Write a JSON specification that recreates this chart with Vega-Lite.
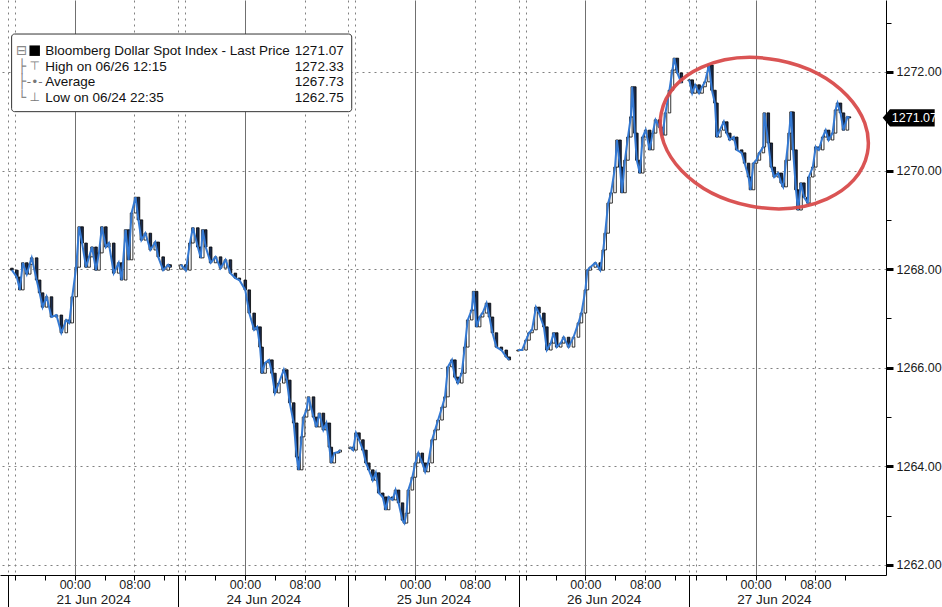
{
  "$schema": "https://vega.github.io/schema/vega-lite/v6.json",
  "width": 886,
  "height": 575,
  "autosize": {"type": "none"},
  "padding": {"left": 0, "top": 0, "right": 56, "bottom": 32},
  "background": "white",
  "config": {
    "view": {"stroke": null},
    "axis": {"labelFont": "Liberation Sans", "titleFont": "Liberation Sans"},
    "text": {"font": "Liberation Sans"}
  },
  "datasets": {
    "px": [
      {"d":0,"t":0.53,"o":1268.02,"c":1267.98},{"d":0,"t":1.19,"o":1267.98,"c":1267.84},{"d":0,"t":1.59,"o":1267.84,"c":1267.58},{"d":0,"t":1.99,"o":1267.58,"c":1268.13},{"d":0,"t":2.52,"o":1268.13,"c":1267.90},{"d":0,"t":2.91,"o":1267.90,"c":1268.10},{"d":0,"t":3.18,"o":1268.10,"c":1268.23},{"d":0,"t":3.84,"o":1268.23,"c":1267.78},{"d":0,"t":4.24,"o":1267.78,"c":1267.52},{"d":0,"t":4.64,"o":1267.52,"c":1267.23},{"d":0,"t":5.17,"o":1267.23,"c":1267.44},{"d":0,"t":5.83,"o":1267.44,"c":1267.03},{"d":0,"t":6.49,"o":1267.03,"c":1267.07},{"d":0,"t":7.15,"o":1267.07,"c":1266.71},{"d":0,"t":7.81,"o":1266.71,"c":1266.97},{"d":0,"t":8.21,"o":1266.97,"c":1266.91},{"d":0,"t":8.61,"o":1266.91,"c":1267.44},{"d":0,"t":9.14,"o":1267.44,"c":1268.04},{"d":0,"t":9.54,"o":1268.04,"c":1268.86},{"d":0,"t":9.93,"o":1268.86,"c":1268.53},{"d":0,"t":10.46,"o":1268.53,"c":1268.04},{"d":0,"t":10.86,"o":1268.04,"c":1268.25},{"d":0,"t":11.26,"o":1268.25,"c":1268.45},{"d":0,"t":11.79,"o":1268.45,"c":1267.98},{"d":0,"t":12.19,"o":1267.98,"c":1268.33},{"d":0,"t":12.58,"o":1268.33,"c":1268.86},{"d":0,"t":13.11,"o":1268.86,"c":1268.45},{"d":0,"t":13.51,"o":1268.45,"c":1268.53},{"d":0,"t":14.17,"o":1268.53,"c":1267.92},{"d":0,"t":14.83,"o":1267.92,"c":1268.13},{"d":0,"t":15.23,"o":1268.13,"c":1267.78},{"d":0,"t":15.76,"o":1267.78,"c":1268.80},{"d":0,"t":16.16,"o":1268.80,"c":1268.19},{"d":0,"t":16.56,"o":1268.19,"c":1269.14},{"d":0,"t":17.09,"o":1269.14,"c":1269.46},{"d":0,"t":17.48,"o":1269.46,"c":1269.00},{"d":0,"t":17.88,"o":1269.00,"c":1268.59},{"d":0,"t":18.41,"o":1268.59,"c":1268.73},{"d":0,"t":19.07,"o":1268.73,"c":1268.39},{"d":0,"t":19.74,"o":1268.39,"c":1268.55},{"d":0,"t":20.13,"o":1268.55,"c":1268.25},{"d":0,"t":20.79,"o":1268.25,"c":1267.98},{"d":0,"t":21.46,"o":1267.98,"c":1268.09},{"d":0,"t":21.72,"o":1268.09,"c":1268.04},
      {"d":1,"t":23.18,"o":1268.00,"c":1268.09},{"d":1,"t":23.84,"o":1268.09,"c":1267.98},{"d":1,"t":24.37,"o":1267.98,"c":1268.53},{"d":1,"t":24.77,"o":1268.53,"c":1268.84},{"d":1,"t":25.43,"o":1268.84,"c":1268.45},{"d":1,"t":25.83,"o":1268.45,"c":1268.23},{"d":1,"t":26.09,"o":1268.23,"c":1268.80},{"d":1,"t":26.49,"o":1268.80,"c":1268.45},{"d":1,"t":27.15,"o":1268.45,"c":1268.13},{"d":1,"t":27.81,"o":1268.13,"c":1268.25},{"d":1,"t":28.48,"o":1268.25,"c":1268.02},{"d":1,"t":29.14,"o":1268.02,"c":1268.19},{"d":1,"t":29.80,"o":1268.19,"c":1267.92},{"d":1,"t":30.46,"o":1267.92,"c":1267.82},{"d":1,"t":30.99,"o":1267.82,"c":1267.78},{"d":1,"t":31.79,"o":1267.78,"c":1267.58},{"d":1,"t":32.32,"o":1267.58,"c":1267.11},{"d":1,"t":32.98,"o":1267.11,"c":1266.77},{"d":1,"t":33.38,"o":1266.77,"c":1266.83},{"d":1,"t":33.77,"o":1266.83,"c":1266.42},{"d":1,"t":34.04,"o":1266.42,"c":1265.89},{"d":1,"t":34.44,"o":1265.89,"c":1266.10},{"d":1,"t":34.97,"o":1266.10,"c":1266.16},{"d":1,"t":35.36,"o":1266.16,"c":1265.89},{"d":1,"t":35.76,"o":1265.89,"c":1265.49},{"d":1,"t":36.29,"o":1265.49,"c":1265.69},{"d":1,"t":36.95,"o":1265.69,"c":1265.96},{"d":1,"t":37.35,"o":1265.96,"c":1265.75},{"d":1,"t":37.75,"o":1265.75,"c":1265.29},{"d":1,"t":38.28,"o":1265.29,"c":1264.88},{"d":1,"t":38.68,"o":1264.88,"c":1264.19},{"d":1,"t":38.94,"o":1264.19,"c":1263.93},{"d":1,"t":39.34,"o":1263.93,"c":1264.60},{"d":1,"t":39.60,"o":1264.60,"c":1265.00},{"d":1,"t":40.00,"o":1265.00,"c":1265.14},{"d":1,"t":40.26,"o":1265.14,"c":1265.41},{"d":1,"t":40.93,"o":1265.41,"c":1265.00},{"d":1,"t":41.32,"o":1265.00,"c":1264.80},{"d":1,"t":41.72,"o":1264.80,"c":1265.08},{"d":1,"t":42.25,"o":1265.08,"c":1264.74},{"d":1,"t":42.65,"o":1264.74,"c":1264.88},{"d":1,"t":43.05,"o":1264.88,"c":1264.39},{"d":1,"t":43.31,"o":1264.39,"c":1264.07},{"d":1,"t":43.71,"o":1264.07,"c":1264.27},{"d":1,"t":44.24,"o":1264.27,"c":1264.29},{"d":1,"t":44.50,"o":1264.29,"c":1264.33},
      {"d":2,"t":45.83,"o":1264.36,"c":1264.39},{"d":2,"t":46.23,"o":1264.39,"c":1264.33},{"d":2,"t":46.62,"o":1264.33,"c":1264.68},{"d":2,"t":47.02,"o":1264.68,"c":1264.54},{"d":2,"t":47.55,"o":1264.54,"c":1264.33},{"d":2,"t":47.95,"o":1264.33,"c":1264.07},{"d":2,"t":48.34,"o":1264.07,"c":1263.93},{"d":2,"t":48.87,"o":1263.93,"c":1263.72},{"d":2,"t":49.27,"o":1263.72,"c":1263.87},{"d":2,"t":49.67,"o":1263.87,"c":1263.46},{"d":2,"t":50.20,"o":1263.46,"c":1263.38},{"d":2,"t":50.60,"o":1263.38,"c":1263.12},{"d":2,"t":50.99,"o":1263.12,"c":1263.38},{"d":2,"t":51.52,"o":1263.38,"c":1263.32},{"d":2,"t":51.92,"o":1263.32,"c":1263.52},{"d":2,"t":52.32,"o":1263.52,"c":1263.26},{"d":2,"t":52.85,"o":1263.26,"c":1262.91},{"d":2,"t":53.11,"o":1262.91,"c":1262.85},{"d":2,"t":53.38,"o":1262.85,"c":1263.05},{"d":2,"t":53.64,"o":1263.05,"c":1263.52},{"d":2,"t":54.17,"o":1263.52,"c":1263.78},{"d":2,"t":54.57,"o":1263.78,"c":1264.07},{"d":2,"t":54.97,"o":1264.07,"c":1264.27},{"d":2,"t":55.50,"o":1264.27,"c":1264.07},{"d":2,"t":55.89,"o":1264.07,"c":1263.89},{"d":2,"t":56.29,"o":1263.89,"c":1264.07},{"d":2,"t":56.82,"o":1264.07,"c":1264.54},{"d":2,"t":57.22,"o":1264.54,"c":1264.74},{"d":2,"t":57.62,"o":1264.74,"c":1264.94},{"d":2,"t":58.15,"o":1264.94,"c":1265.20},{"d":2,"t":58.54,"o":1265.20,"c":1265.41},{"d":2,"t":58.94,"o":1265.41,"c":1266.02},{"d":2,"t":59.47,"o":1266.02,"c":1266.16},{"d":2,"t":59.87,"o":1266.16,"c":1265.81},{"d":2,"t":60.26,"o":1265.81,"c":1265.69},{"d":2,"t":60.79,"o":1265.69,"c":1265.89},{"d":2,"t":61.19,"o":1265.89,"c":1266.42},{"d":2,"t":61.59,"o":1266.42,"c":1266.97},{"d":2,"t":62.12,"o":1266.97,"c":1267.17},{"d":2,"t":62.38,"o":1267.17,"c":1267.55},{"d":2,"t":62.78,"o":1267.55,"c":1266.83},{"d":2,"t":63.18,"o":1266.83,"c":1267.03},{"d":2,"t":63.58,"o":1267.03,"c":1267.11},{"d":2,"t":64.11,"o":1267.11,"c":1267.31},{"d":2,"t":64.50,"o":1267.31,"c":1267.03},{"d":2,"t":64.90,"o":1267.03,"c":1266.71},{"d":2,"t":65.43,"o":1266.71,"c":1266.42},{"d":2,"t":66.09,"o":1266.42,"c":1266.36},{"d":2,"t":66.75,"o":1266.36,"c":1266.22},{"d":2,"t":67.15,"o":1266.22,"c":1266.16},
      {"d":3,"t":68.34,"o":1266.34,"c":1266.36},{"d":3,"t":68.87,"o":1266.36,"c":1266.36},{"d":3,"t":69.40,"o":1266.36,"c":1266.56},{"d":3,"t":69.80,"o":1266.56,"c":1266.71},{"d":3,"t":70.20,"o":1266.71,"c":1266.77},{"d":3,"t":70.73,"o":1266.77,"c":1267.23},{"d":3,"t":71.13,"o":1267.23,"c":1267.11},{"d":3,"t":71.79,"o":1267.11,"c":1266.83},{"d":3,"t":72.19,"o":1266.83,"c":1266.36},{"d":3,"t":72.72,"o":1266.36,"c":1266.50},{"d":3,"t":73.11,"o":1266.50,"c":1266.71},{"d":3,"t":73.51,"o":1266.71,"c":1266.42},{"d":3,"t":74.04,"o":1266.42,"c":1266.50},{"d":3,"t":74.44,"o":1266.50,"c":1266.62},{"d":3,"t":75.10,"o":1266.62,"c":1266.42},{"d":3,"t":75.76,"o":1266.42,"c":1266.62},{"d":3,"t":76.42,"o":1266.62,"c":1266.91},{"d":3,"t":76.82,"o":1266.91,"c":1267.11},{"d":3,"t":77.35,"o":1267.11,"c":1267.58},{"d":3,"t":77.62,"o":1267.58,"c":1267.98},{"d":3,"t":78.01,"o":1267.98,"c":1268.04},{"d":3,"t":78.68,"o":1268.04,"c":1268.13},{"d":3,"t":79.34,"o":1268.13,"c":1267.98},{"d":3,"t":79.74,"o":1267.98,"c":1268.39},{"d":3,"t":80.00,"o":1268.39,"c":1268.73},{"d":3,"t":80.40,"o":1268.73,"c":1269.34},{"d":3,"t":80.79,"o":1269.34,"c":1269.55},{"d":3,"t":81.32,"o":1269.55,"c":1270.07},{"d":3,"t":81.59,"o":1270.07,"c":1270.62},{"d":3,"t":81.99,"o":1270.62,"c":1270.07},{"d":3,"t":82.25,"o":1270.07,"c":1269.55},{"d":3,"t":82.65,"o":1269.55,"c":1270.21},{"d":3,"t":83.05,"o":1270.21,"c":1270.68},{"d":3,"t":83.44,"o":1270.68,"c":1271.09},{"d":3,"t":83.64,"o":1271.09,"c":1271.70},{"d":3,"t":83.97,"o":1271.70,"c":1270.76},{"d":3,"t":84.24,"o":1270.76,"c":1270.21},{"d":3,"t":84.64,"o":1270.21,"c":1269.95},{"d":3,"t":85.03,"o":1269.95,"c":1270.68},{"d":3,"t":85.43,"o":1270.68,"c":1270.82},{"d":3,"t":85.96,"o":1270.82,"c":1270.42},{"d":3,"t":86.36,"o":1270.42,"c":1270.76},{"d":3,"t":86.75,"o":1270.76,"c":1271.03},{"d":3,"t":87.28,"o":1271.03,"c":1270.88},{"d":3,"t":87.68,"o":1270.88,"c":1270.72},{"d":3,"t":88.08,"o":1270.72,"c":1271.17},{"d":3,"t":88.61,"o":1271.17,"c":1271.63},{"d":3,"t":89.01,"o":1271.63,"c":1272.04},{"d":3,"t":89.27,"o":1272.04,"c":1272.28},{"d":3,"t":89.67,"o":1272.28,"c":1271.98},{"d":3,"t":90.20,"o":1271.98,"c":1271.78},
      {"d":4,"t":91.26,"o":1271.82,"c":1271.84},{"d":4,"t":91.66,"o":1271.84,"c":1271.57},{"d":4,"t":92.05,"o":1271.57,"c":1271.74},{"d":4,"t":92.58,"o":1271.74,"c":1271.57},{"d":4,"t":92.98,"o":1271.57,"c":1271.70},{"d":4,"t":93.38,"o":1271.70,"c":1271.80},{"d":4,"t":93.91,"o":1271.80,"c":1272.14},{"d":4,"t":94.30,"o":1272.14,"c":1271.63},{"d":4,"t":94.70,"o":1271.63,"c":1271.37},{"d":4,"t":94.97,"o":1271.37,"c":1270.68},{"d":4,"t":95.36,"o":1270.68,"c":1270.82},{"d":4,"t":95.89,"o":1270.82,"c":1270.99},{"d":4,"t":96.29,"o":1270.99,"c":1270.76},{"d":4,"t":96.69,"o":1270.76,"c":1270.62},{"d":4,"t":97.22,"o":1270.62,"c":1270.68},{"d":4,"t":97.62,"o":1270.68,"c":1270.42},{"d":4,"t":98.28,"o":1270.42,"c":1270.36},{"d":4,"t":98.68,"o":1270.36,"c":1270.15},{"d":4,"t":99.21,"o":1270.15,"c":1269.87},{"d":4,"t":99.47,"o":1269.87,"c":1269.61},{"d":4,"t":99.87,"o":1269.61,"c":1270.15},{"d":4,"t":100.26,"o":1270.15,"c":1270.21},{"d":4,"t":100.66,"o":1270.21,"c":1270.36},{"d":4,"t":101.19,"o":1270.36,"c":1270.48},{"d":4,"t":101.32,"o":1270.48,"c":1271.17},{"d":4,"t":101.85,"o":1271.17,"c":1270.56},{"d":4,"t":102.25,"o":1270.56,"c":1270.07},{"d":4,"t":102.65,"o":1270.07,"c":1269.87},{"d":4,"t":103.18,"o":1269.87,"c":1269.95},{"d":4,"t":103.58,"o":1269.95,"c":1269.75},{"d":4,"t":103.84,"o":1269.75,"c":1269.67},{"d":4,"t":104.24,"o":1269.67,"c":1270.21},{"d":4,"t":104.64,"o":1270.21,"c":1270.76},{"d":4,"t":104.90,"o":1270.76,"c":1271.19},{"d":4,"t":105.17,"o":1271.19,"c":1270.42},{"d":4,"t":105.56,"o":1270.42,"c":1269.61},{"d":4,"t":105.83,"o":1269.61,"c":1269.20},{"d":4,"t":106.23,"o":1269.20,"c":1269.75},{"d":4,"t":106.62,"o":1269.75,"c":1269.46},{"d":4,"t":107.15,"o":1269.46,"c":1269.34},{"d":4,"t":107.28,"o":1269.34,"c":1269.87},{"d":4,"t":107.81,"o":1269.87,"c":1270.07},{"d":4,"t":108.21,"o":1270.07,"c":1270.48},{"d":4,"t":108.61,"o":1270.48,"c":1270.42},{"d":4,"t":109.14,"o":1270.42,"c":1270.68},{"d":4,"t":109.54,"o":1270.68,"c":1270.82},{"d":4,"t":109.93,"o":1270.82,"c":1270.62},{"d":4,"t":110.46,"o":1270.62,"c":1270.76},{"d":4,"t":110.86,"o":1270.76,"c":1271.23},{"d":4,"t":111.13,"o":1271.23,"c":1271.37},{"d":4,"t":111.52,"o":1271.37,"c":1271.17},{"d":4,"t":111.92,"o":1271.17,"c":1270.82},{"d":4,"t":112.45,"o":1270.82,"c":1271.09},{"d":4,"t":112.72,"o":1271.09,"c":1271.07}
    ]
  },
  "resolve": {"axis": {"x": "independent", "y": "independent"}},
  "layer": [
    {
      "data": {"name": "px"},
      "mark": {"type": "bar", "size": 2.6, "stroke": "#000000", "strokeWidth": 0.8},
      "encoding": {
        "x": {"field": "t", "type": "quantitative",
          "scale": {"domain": [-0.397, 116.95], "nice": false, "zero": false},
          "axis": {"orient": "bottom", "title": null,
            "values": [0,11.4,22.8,34.2,45.6,57,68.4,79.8,91.2,102.6],
            "labelExpr": "abs(datum.value % 22.8 - 11.4) < 0.1 ? ['21 Jun 2024','24 Jun 2024','25 Jun 2024','26 Jun 2024','27 Jun 2024'][floor(datum.value / 22.8)] : ''",
            "labelFlush": false, "labelOverlap": false, "labelBound": false,
            "labelFontSize": 13.5, "labelColor": "#1a1a1a", "labelPadding": -15,
            "domain": false, "grid": false,
            "ticks": true, "tickSize": 32, "tickColor": "#000000", "tickWidth": 1,
            "tickOpacity": {"condition": {"test": "abs(datum.value % 22.8 - 11.4) < 0.1", "value": 0}, "value": 1}
          }
        },
        "y": {"field": "o", "type": "quantitative",
          "scale": {"domain": [1261.797, 1273.46], "nice": false, "zero": false}, "axis": null},
        "y2": {"field": "c"},
        "fill": {"condition": {"test": "datum.c >= datum.o", "value": "#ffffff"}, "value": "#1a2a4a"}
      }
    },
    {
      "data": {"name": "px"},
      "mark": {"type": "line", "color": "#3479d3", "strokeWidth": 2},
      "encoding": {
        "x": {"field": "t", "type": "quantitative",
          "scale": {"domain": [-0.397, 116.95], "nice": false, "zero": false},
          "axis": {"orient": "bottom", "title": null,
            "values": [0,0.95,4.95,8.95,12.95,16.95,20.95,22.8,23.75,27.75,31.75,35.75,39.75,43.75,45.6,46.55,50.55,54.55,58.55,62.55,66.55,68.4,69.35,73.35,77.35,81.35,85.35,89.35,91.2,92.15,96.15,100.15,104.15,108.15,112.15],
            "labelExpr": "abs(datum.value % 22.8 - 8.95) < 0.1 ? '00:00' : (abs(datum.value % 22.8 - 16.95) < 0.1 ? '08:00' : '')",
            "labelFlush": false, "labelOverlap": false, "labelBound": false,
            "labelFontSize": 12.5, "labelColor": "#1a1a1a", "labelPadding": -2,
            "domain": true, "domainColor": "#000000", "domainWidth": 1,
            "ticks": true, "tickSize": 5, "tickColor": "#000000", "tickWidth": 1,
            "grid": true,
            "gridDash": {"condition": {"test": "abs(datum.value % 22.8 - 8.95) < 0.1", "value": []}, "value": [2, 4]},
            "gridColor": {"condition": {"test": "abs(datum.value % 22.8 - 8.95) < 0.1", "value": "#707070"}, "value": "#808080"},
            "gridOpacity": {"condition": {"test": "abs(datum.value % 22.8 - 4.95) < 0.1 || abs(datum.value % 22.8 - 12.95) < 0.1 || abs(datum.value % 22.8 - 20.95) < 0.1", "value": 0}, "value": 1}
          }
        },
        "y": {"field": "c", "type": "quantitative",
          "scale": {"domain": [1261.797, 1273.46], "nice": false, "zero": false},
          "axis": {"orient": "right", "title": null,
            "values": [1262,1263,1264,1265,1266,1267,1268,1269,1270,1271,1272,1273],
            "labelExpr": "datum.value % 2 == 0 ? format(datum.value, '.2f') : ''",
            "labelFontSize": 12.5, "labelColor": "#1a1a1a", "labelPadding": 3,
            "domainColor": "#000000",
            "tickColor": "#000000",
            "tickSize": {"condition": {"test": "datum.value % 2 != 0", "value": 5}, "value": 7},
            "tickWidth": {"condition": {"test": "datum.value % 2 != 0", "value": 1}, "value": 3},
            "grid": true, "gridDash": [2, 4], "gridColor": "#808080",
            "gridOpacity": {"condition": {"test": "datum.value % 2 != 0", "value": 0}, "value": 1}
          }
        },
        "detail": {"field": "d", "type": "nominal"}
      }
    },
    {
      "data": {"values": [{}]},
      "mark": {"type": "point", "shape": "M -1 0 A 1 0.707 0 1 0 1 0 A 1 0.707 0 1 0 -1 0 Z", "size": 44100, "angle": 11, "filled": false, "stroke": "#d94b4b", "strokeWidth": 3.5, "opacity": 0.95},
      "encoding": {
        "x": {"datum": 101.32, "type": "quantitative", "scale": {"domain": [-0.397, 116.95], "nice": false, "zero": false}, "axis": null},
        "y": {"datum": 1270.76, "type": "quantitative", "scale": {"domain": [1261.797, 1273.46], "nice": false, "zero": false}, "axis": null}
      }
    },
    {
      "data": {"values": [{}]},
      "mark": {"type": "rect", "fill": "#ffffff", "stroke": "#333333", "strokeWidth": 1, "cornerRadius": 3},
      "encoding": {
        "x": {"datum": 0.49, "type": "quantitative", "scale": {"domain": [-0.397, 116.95], "nice": false, "zero": false}, "axis": null},
        "x2": {"datum": 46.05},
        "y": {"datum": 1272.77, "type": "quantitative", "scale": {"domain": [1261.797, 1273.46], "nice": false, "zero": false}, "axis": null},
        "y2": {"datum": 1271.195}
      }
    },
    {
      "data": {"values": [{}]},
      "mark": {"type": "text", "align": "left", "baseline": "middle", "fontSize": 13.5, "lineHeight": 15.9, "color": "#111111"},
      "encoding": {
        "x": {"datum": 4.99, "type": "quantitative", "scale": {"domain": [-0.397, 116.95], "nice": false, "zero": false}, "axis": null},
        "y": {"datum": 1272.432, "type": "quantitative", "scale": {"domain": [1261.797, 1273.46], "nice": false, "zero": false}, "axis": null},
        "text": {"value": ["Bloomberg Dollar Spot Index - Last Price", "High on 06/26 12:15", "Average", "Low on 06/24 22:35"]}
      }
    },
    {
      "data": {"values": [{}]},
      "mark": {"type": "text", "align": "right", "baseline": "middle", "fontSize": 13.5, "lineHeight": 15.9, "color": "#111111"},
      "encoding": {
        "x": {"datum": 44.97, "type": "quantitative", "scale": {"domain": [-0.397, 116.95], "nice": false, "zero": false}, "axis": null},
        "y": {"datum": 1272.432, "type": "quantitative", "scale": {"domain": [1261.797, 1273.46], "nice": false, "zero": false}, "axis": null},
        "text": {"value": ["1271.07", "1272.33", "1267.73", "1262.75"]}
      }
    },
    {
      "data": {"values": [{}]},
      "mark": {"type": "point", "shape": "square", "size": 110, "filled": true, "color": "#000000", "opacity": 1},
      "encoding": {
        "x": {"datum": 3.58, "type": "quantitative", "scale": {"domain": [-0.397, 116.95], "nice": false, "zero": false}, "axis": null},
        "y": {"datum": 1272.432, "type": "quantitative", "scale": {"domain": [1261.797, 1273.46], "nice": false, "zero": false}, "axis": null}
      }
    },
    {
      "data": {"values": [{}]},
      "mark": {"type": "text", "align": "center", "baseline": "middle", "font": "DejaVu Sans", "fontSize": 12, "lineHeight": 15.9, "color": "#777777"},
      "encoding": {
        "x": {"datum": 3.58, "type": "quantitative", "scale": {"domain": [-0.397, 116.95], "nice": false, "zero": false}, "axis": null},
        "y": {"datum": 1272.128, "type": "quantitative", "scale": {"domain": [1261.797, 1273.46], "nice": false, "zero": false}, "axis": null},
        "text": {"value": ["⊤", "-•-", "⊥"]}
      }
    },
    {
      "data": {"values": [{}]},
      "mark": {"type": "text", "align": "center", "baseline": "middle", "font": "DejaVu Sans", "fontSize": 13.5, "lineHeight": 15.9, "color": "#888888"},
      "encoding": {
        "x": {"datum": 1.85, "type": "quantitative", "scale": {"domain": [-0.397, 116.95], "nice": false, "zero": false}, "axis": null},
        "y": {"datum": 1272.432, "type": "quantitative", "scale": {"domain": [1261.797, 1273.46], "nice": false, "zero": false}, "axis": null},
        "text": {"value": ["⊟", "├", "├", "└"]}
      }
    },
    {
      "data": {"values": [{}]},
      "mark": {"type": "point", "shape": "M -1 0 L -0.72 -0.33 L 1 -0.33 L 1 0.33 L -0.72 0.33 Z", "size": 2704, "filled": true, "color": "#000000", "opacity": 1},
      "encoding": {
        "x": {"datum": 120.66, "type": "quantitative", "scale": {"domain": [-0.397, 116.95], "nice": false, "zero": false}, "axis": null},
        "y": {"datum": 1271.07, "type": "quantitative", "scale": {"domain": [1261.797, 1273.46], "nice": false, "zero": false}, "axis": null}
      }
    },
    {
      "data": {"values": [{}]},
      "mark": {"type": "text", "align": "left", "baseline": "middle", "fontSize": 12.5, "color": "#ffffff"},
      "encoding": {
        "x": {"datum": 118.4, "type": "quantitative", "scale": {"domain": [-0.397, 116.95], "nice": false, "zero": false}, "axis": null},
        "y": {"datum": 1271.07, "type": "quantitative", "scale": {"domain": [1261.797, 1273.46], "nice": false, "zero": false}, "axis": null},
        "text": {"value": "1271.07"}
      }
    }
  ]
}
